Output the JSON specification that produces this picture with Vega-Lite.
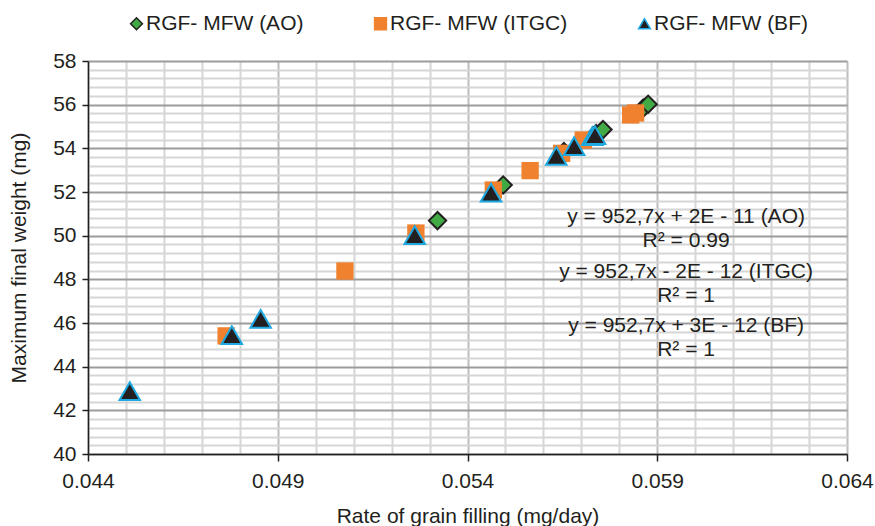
{
  "$schema": "https://vega.github.io/schema/vega-lite/v6.json",
  "width": 759,
  "height": 393,
  "autosize": {"type": "none"},
  "padding": {"left": 88, "top": 61, "right": 28, "bottom": 72},
  "background": "white",
  "config": {
    "font": "Liberation Sans",
    "view": {"stroke": null},
    "axis": {"labelFont": "Liberation Sans", "titleFont": "Liberation Sans", "labelColor": "#231f20", "titleColor": "#231f20", "titleFontWeight": "normal"},
    "legend": {"labelFont": "Liberation Sans", "labelFontSize": 21, "labelColor": "#231f20", "labelLimit": 400}
  },
  "datasets": {
    "pts": [
      {"series": "RGF- MFW (AO)", "rate": 0.05321, "weight": 50.69},
      {"series": "RGF- MFW (AO)", "rate": 0.05494, "weight": 52.32},
      {"series": "RGF- MFW (AO)", "rate": 0.05654, "weight": 53.85},
      {"series": "RGF- MFW (AO)", "rate": 0.05739, "weight": 54.68},
      {"series": "RGF- MFW (AO)", "rate": 0.05757, "weight": 54.86},
      {"series": "RGF- MFW (AO)", "rate": 0.05863, "weight": 55.84},
      {"series": "RGF- MFW (AO)", "rate": 0.05876, "weight": 56.02},
      {"series": "RGF- MFW (ITGC)", "rate": 0.04764, "weight": 45.41},
      {"series": "RGF- MFW (ITGC)", "rate": 0.05077, "weight": 48.38},
      {"series": "RGF- MFW (ITGC)", "rate": 0.05264, "weight": 50.12},
      {"series": "RGF- MFW (ITGC)", "rate": 0.05468, "weight": 52.09},
      {"series": "RGF- MFW (ITGC)", "rate": 0.05565, "weight": 52.98},
      {"series": "RGF- MFW (ITGC)", "rate": 0.05648, "weight": 53.77},
      {"series": "RGF- MFW (ITGC)", "rate": 0.05705, "weight": 54.38},
      {"series": "RGF- MFW (ITGC)", "rate": 0.0583, "weight": 55.53},
      {"series": "RGF- MFW (ITGC)", "rate": 0.05843, "weight": 55.62},
      {"series": "RGF- MFW (BF)", "rate": 0.0451, "weight": 42.88},
      {"series": "RGF- MFW (BF)", "rate": 0.04779, "weight": 45.45},
      {"series": "RGF- MFW (BF)", "rate": 0.04855, "weight": 46.19},
      {"series": "RGF- MFW (BF)", "rate": 0.05261, "weight": 50.03},
      {"series": "RGF- MFW (BF)", "rate": 0.05462, "weight": 51.97},
      {"series": "RGF- MFW (BF)", "rate": 0.05634, "weight": 53.65},
      {"series": "RGF- MFW (BF)", "rate": 0.05681, "weight": 54.1},
      {"series": "RGF- MFW (BF)", "rate": 0.05729, "weight": 54.56},
      {"series": "RGF- MFW (BF)", "rate": 0.05736, "weight": 54.61}
    ],
    "notes": [
      {"label": "y = 952,7x + 2E - 11 (AO)", "rate": 0.05976, "weight": 50.86},
      {"label": "R² = 0.99", "rate": 0.05976, "weight": 49.76},
      {"label": "y = 952,7x - 2E - 12 (ITGC)", "rate": 0.05976, "weight": 48.34},
      {"label": "R² = 1", "rate": 0.05976, "weight": 47.24},
      {"label": "y = 952,7x + 3E - 12 (BF)", "rate": 0.05976, "weight": 45.86},
      {"label": "R² = 1", "rate": 0.05976, "weight": 44.76}
    ]
  },
  "resolve": {"axis": {"x": "independent", "y": "independent"}},
  "encoding": {
    "shape": {
      "field": "series", "type": "nominal",
      "scale": {"domain": ["RGF- MFW (AO)", "RGF- MFW (ITGC)", "RGF- MFW (BF)"], "range": ["diamond", "square", "triangle-up"]},
      "legend": {"title": null, "orient": "none", "direction": "horizontal", "legendX": 38, "legendY": -48, "labelOffset": -1, "symbolSize": 140, "symbolStrokeWidth": 1.5, "columnPadding": 66, "padding": 0}
    },
    "fill": {
      "field": "series", "type": "nominal",
      "scale": {"domain": ["RGF- MFW (AO)", "RGF- MFW (ITGC)", "RGF- MFW (BF)"], "range": ["#41aa44", "#f0812f", "#231f20"]},
      "legend": {"title": null, "orient": "none", "direction": "horizontal", "legendX": 38, "legendY": -48, "labelOffset": -1, "symbolSize": 140, "symbolStrokeWidth": 1.5, "columnPadding": 66, "padding": 0}
    },
    "stroke": {
      "field": "series", "type": "nominal",
      "scale": {"domain": ["RGF- MFW (AO)", "RGF- MFW (ITGC)", "RGF- MFW (BF)"], "range": ["#231f20", "#f0812f", "#1fa9e1"]},
      "legend": {"title": null, "orient": "none", "direction": "horizontal", "legendX": 38, "legendY": -48, "labelOffset": -1, "symbolSize": 140, "symbolStrokeWidth": 1.5, "columnPadding": 66, "padding": 0}
    }
  },
  "layer": [
    {
      "data": {"name": "pts"},
      "transform": [{"filter": "datum.series == 'RGF- MFW (AO)'"}],
      "mark": {"type": "point", "filled": true, "strokeWidth": 2, "opacity": 1, "size": 300},
      "encoding": {
        "x": {
          "field": "rate", "type": "quantitative",
          "scale": {"domain": [0.044, 0.064], "nice": false, "zero": false},
          "axis": {
            "orient": "top", "title": null, "labels": false, "ticks": false, "domain": false,
            "grid": true, "gridColor": "#d6d6d6", "gridWidth": 2,
            "values": [0.045, 0.046, 0.047, 0.048, 0.05, 0.051, 0.052, 0.053, 0.055, 0.056, 0.057, 0.058, 0.06, 0.061, 0.062, 0.063]
          }
        },
        "y": {
          "field": "weight", "type": "quantitative",
          "scale": {"domain": [40, 58], "nice": false, "zero": false},
          "axis": {
            "orient": "right", "title": null, "labels": false, "ticks": false, "domain": false,
            "grid": true, "gridColor": "#d6d6d6", "gridWidth": 2,
            "values": [40.4, 40.8, 41.2, 41.6, 42.4, 42.8, 43.2, 43.6, 44.4, 44.8, 45.2, 45.6, 46.4, 46.8, 47.2, 47.6, 48.4, 48.8, 49.2, 49.6, 50.4, 50.8, 51.2, 51.6, 52.4, 52.8, 53.2, 53.6, 54.4, 54.8, 55.2, 55.6, 56.4, 56.8, 57.2, 57.6]
          }
        }
      }
    },
    {
      "data": {"name": "pts"},
      "transform": [{"filter": "datum.series == 'RGF- MFW (ITGC)'"}],
      "mark": {"type": "point", "filled": true, "strokeWidth": 0, "opacity": 1, "size": 300},
      "encoding": {
        "x": {"field": "rate", "type": "quantitative", "axis": null},
        "y": {"field": "weight", "type": "quantitative", "axis": null}
      }
    },
    {
      "data": {"name": "pts"},
      "transform": [{"filter": "datum.series == 'RGF- MFW (BF)'"}],
      "mark": {"type": "point", "filled": true, "strokeWidth": 2, "opacity": 1, "size": 420},
      "encoding": {
        "x": {"field": "rate", "type": "quantitative", "axis": null},
        "y": {"field": "weight", "type": "quantitative", "axis": null}
      }
    },
    {
      "data": {"name": "notes"},
      "mark": {"type": "text", "font": "Liberation Sans", "fontSize": 21, "color": "#231f20", "align": "center", "baseline": "middle"},
      "encoding": {
        "shape": null, "fill": null, "stroke": null,
        "x": {
          "field": "rate", "type": "quantitative",
          "axis": {
            "orient": "bottom", "title": "Rate of grain filling (mg/day)", "titleFontSize": 21, "titlePadding": 14,
            "values": [0.044, 0.049, 0.054, 0.059, 0.064], "format": ".3f",
            "labelFontSize": 21, "labelPadding": 9, "labelFlush": false,
            "ticks": true, "tickSize": 7, "tickColor": "#231f20", "tickWidth": 1.5,
            "domain": true, "domainColor": "#231f20", "domainWidth": 1.5,
            "grid": true, "gridColor": "#bdbdbd", "gridWidth": 2
          }
        },
        "y": {
          "field": "weight", "type": "quantitative",
          "axis": {
            "orient": "left", "title": "Maximum final weight (mg)", "titleFontSize": 21, "titlePadding": 23,
            "values": [40, 42, 44, 46, 48, 50, 52, 54, 56, 58], "format": "d",
            "labelFontSize": 21, "labelPadding": 6, "labelFlush": false,
            "ticks": true, "tickSize": 6, "tickColor": "#231f20", "tickWidth": 1.5,
            "domain": true, "domainColor": "#231f20", "domainWidth": 1.5,
            "grid": true, "gridColor": "#9c9c9c", "gridWidth": 2
          }
        },
        "text": {"field": "label", "type": "nominal"}
      }
    }
  ]
}
